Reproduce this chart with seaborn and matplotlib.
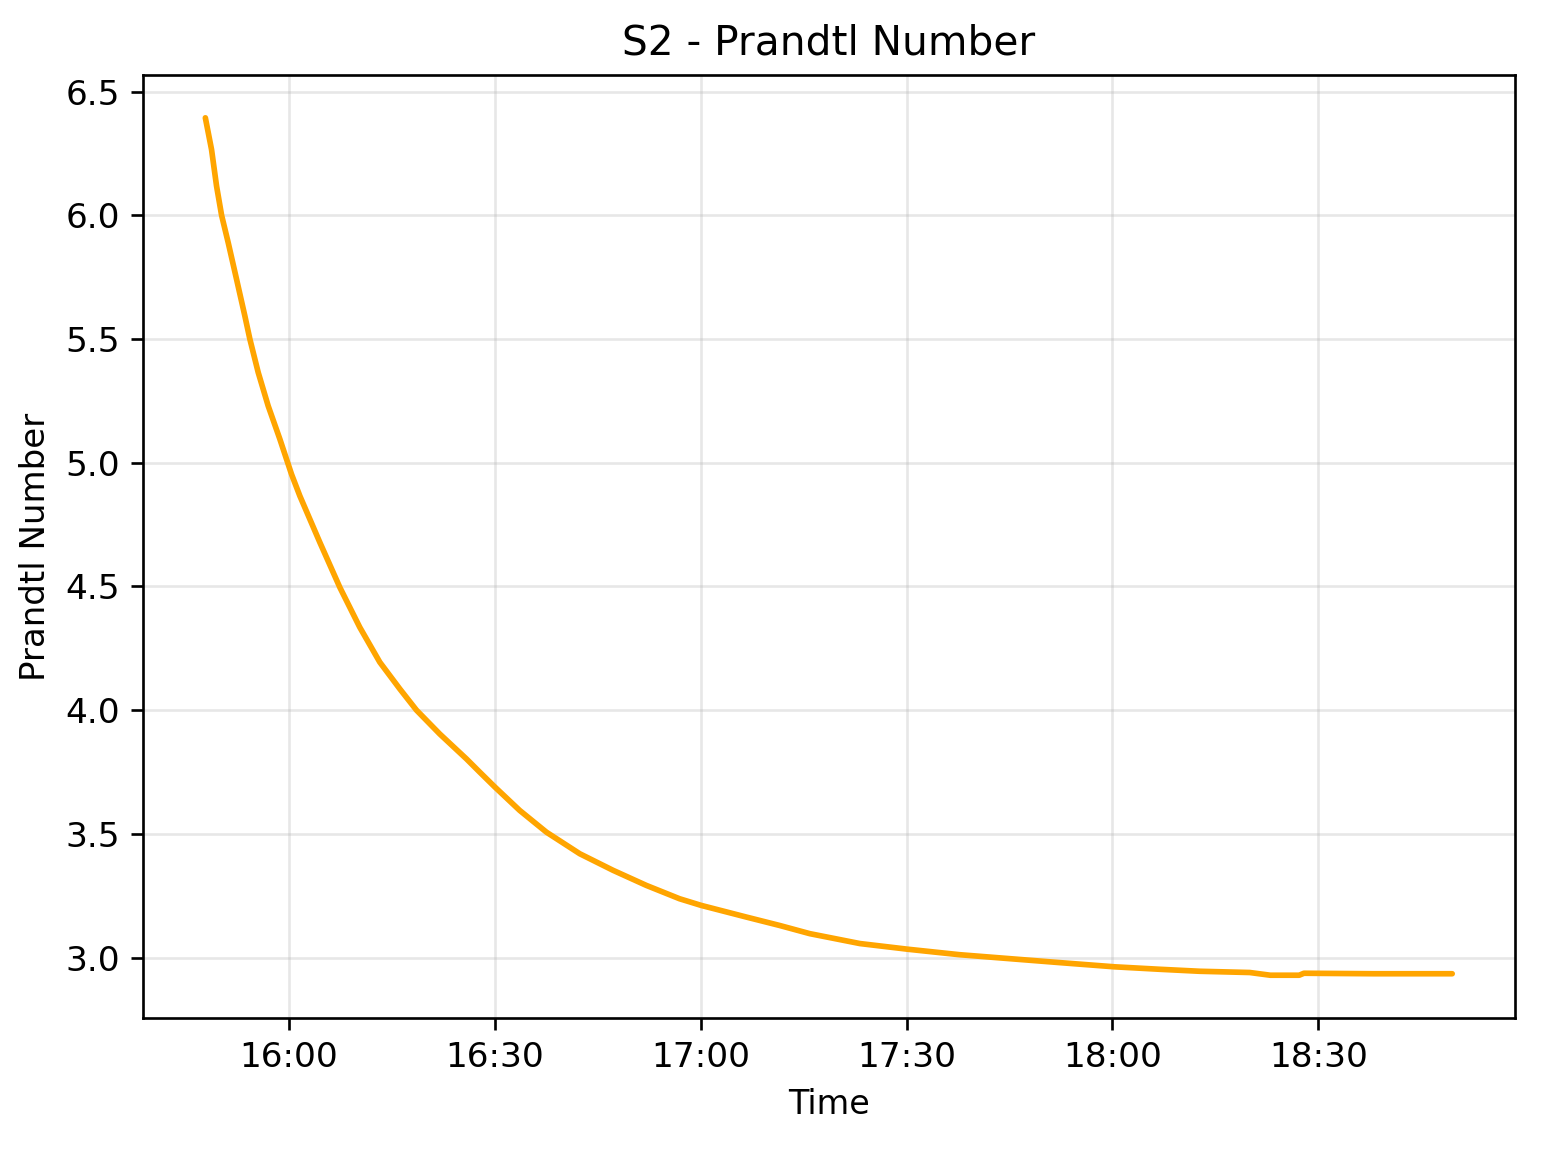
import matplotlib
matplotlib.use("Agg")
import matplotlib.pyplot as plt
import matplotlib.dates as mdates
import seaborn as sns
import pandas as pd

times = ["15:47:50", "15:48:44", "15:49:28", "15:50:12", "15:51:10", "15:52:23",
         "15:53:35", "15:54:19", "15:55:32", "15:56:59", "15:58:41", "16:00:23",
         "16:01:36", "16:04:31", "16:07:26", "16:10:20", "16:13:15", "16:16:10",
         "16:18:36", "16:21:59", "16:25:53", "16:27:48", "16:30:00", "16:33:38",
         "16:37:32", "16:42:23", "16:47:14", "16:52:05", "16:56:56", "17:00:06",
         "17:06:40", "17:11:31", "17:15:54", "17:23:12", "17:30:12", "17:37:42",
         "17:45:00", "17:52:18", "18:00:18", "18:06:54", "18:12:42", "18:20:00",
         "18:23:00", "18:27:12", "18:27:54", "18:38:00", "18:49:30"]
prandtl = [6.394, 6.266, 6.118, 6.000, 5.889, 5.741,
           5.594, 5.500, 5.365, 5.230, 5.096, 4.954,
           4.866, 4.678, 4.496, 4.335, 4.194, 4.086,
           4.000, 3.904, 3.803, 3.750, 3.690, 3.595,
           3.507, 3.420, 3.353, 3.292, 3.238, 3.211,
           3.164, 3.130, 3.097, 3.057, 3.034, 3.012,
           2.996, 2.980, 2.963, 2.953, 2.945, 2.940,
           2.929, 2.929, 2.937, 2.935, 2.935]

df = pd.DataFrame({"Time": pd.to_datetime(["2024-01-01 " + t for t in times]),
                   "Prandtl Number": prandtl})

sns.set_style("white")
plt.rcParams["font.family"] = ["DejaVu Sans"]
plt.rcParams["text.color"] = "black"
plt.rcParams["axes.labelcolor"] = "black"
plt.rcParams["xtick.color"] = "black"
plt.rcParams["ytick.color"] = "black"
plt.rcParams["xtick.bottom"] = True
plt.rcParams["ytick.left"] = True

fig = plt.figure(figsize=(1563 / 240, 1153 / 240), dpi=240)
ax = fig.add_axes([0.0915, 0.117, 0.969 - 0.0915, 0.935 - 0.117])

sns.lineplot(data=df, x="Time", y="Prandtl Number", ax=ax, color="orange", linewidth=1.7)

ax.xaxis.set_major_locator(mdates.MinuteLocator(byminute=[0, 30]))
ax.xaxis.set_major_formatter(mdates.DateFormatter("%H:%M"))
ax.set_yticks([3.0, 3.5, 4.0, 4.5, 5.0, 5.5, 6.0, 6.5])
ax.grid(True, color="#b0b0b0", alpha=0.3, linewidth=0.8)
ax.tick_params(axis="both", labelsize=10.3, length=3.5, width=0.8, color="black", direction="out")
for s in ax.spines.values():
    s.set_color("black")
    s.set_linewidth(0.8)
ax.set_xlabel("Time", fontsize=10)
ax.set_ylabel("Prandtl Number", fontsize=10.2)
ax.set_title("S2 - Prandtl Number", fontsize=12.2)

fig.savefig("out.png", dpi=240)
